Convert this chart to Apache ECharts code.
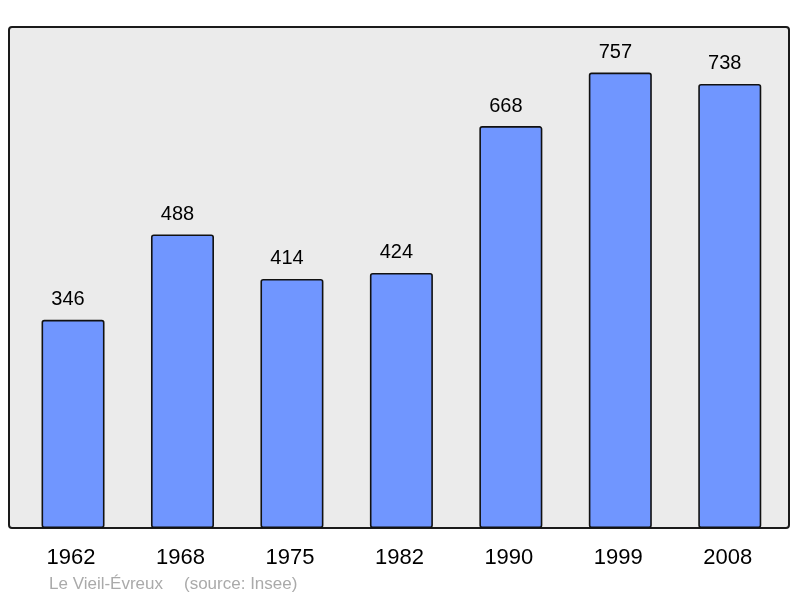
<!DOCTYPE html>
<html><head><meta charset="utf-8">
<script src="https://cdn.jsdelivr.net/npm/echarts@6/dist/echarts.min.js"></script>
<style>html,body{margin:0;padding:0;background:#fff}#c{width:800px;height:598px}</style>
</head><body><div id="c"></div>
<script>
const years = ['1962','1968','1975','1982','1990','1999','2008'];
const population = [346, 488, 414, 424, 668, 757, 738];
const placeName = 'Le Vieil-Évreux';
const sourceText = '(source: Insee)';

const chart = echarts.init(document.getElementById('c'), null, {renderer:'canvas'});
chart.setOption({
  animation: false,
  backgroundColor: '#ffffff',
  textStyle: { fontFamily: 'Liberation Sans, Arial, sans-serif' },
  graphic: [
    { type: 'rect', z: -10, shape: { x: 9, y: 27, width: 780, height: 501, r: 3 },
      style: { fill: '#ebebeb', stroke: '#1a1a1a', lineWidth: 2 } },
    { type: 'text', left: 49, top: 576,
      style: { text: placeName, fill: '#aaaaaa', font: '17px "Liberation Sans", Arial, sans-serif' } },
    { type: 'text', left: 184, top: 576,
      style: { text: sourceText, fill: '#aaaaaa', font: '17px "Liberation Sans", Arial, sans-serif' } }
  ],
  grid: { left: 18.3, right: 15.5, top: 27, bottom: 70 },
  xAxis: {
    type: 'category', data: years,
    axisLine: { show: false }, axisTick: { show: false },
    axisLabel: { color: '#000', fontSize: 22, margin: 19, fontFamily: 'Liberation Sans',
      padding: [0, 4, 0, 0] }
  },
  yAxis: {
    type: 'value', min: 0, max: 757 * 1.1,
    show: false, splitLine: { show: false }
  },
  series: [{
    type: 'bar', data: population, barWidth: 63,
    itemStyle: { color: '#7096ff', borderColor: '#111', borderWidth: 1.6, borderRadius: 2 },
    label: { show: true, position: 'top', distance: 10, offset: [-5, 0], color: '#000', fontSize: 20, fontFamily: 'Liberation Sans' }
  }]
});
</script></body></html>
